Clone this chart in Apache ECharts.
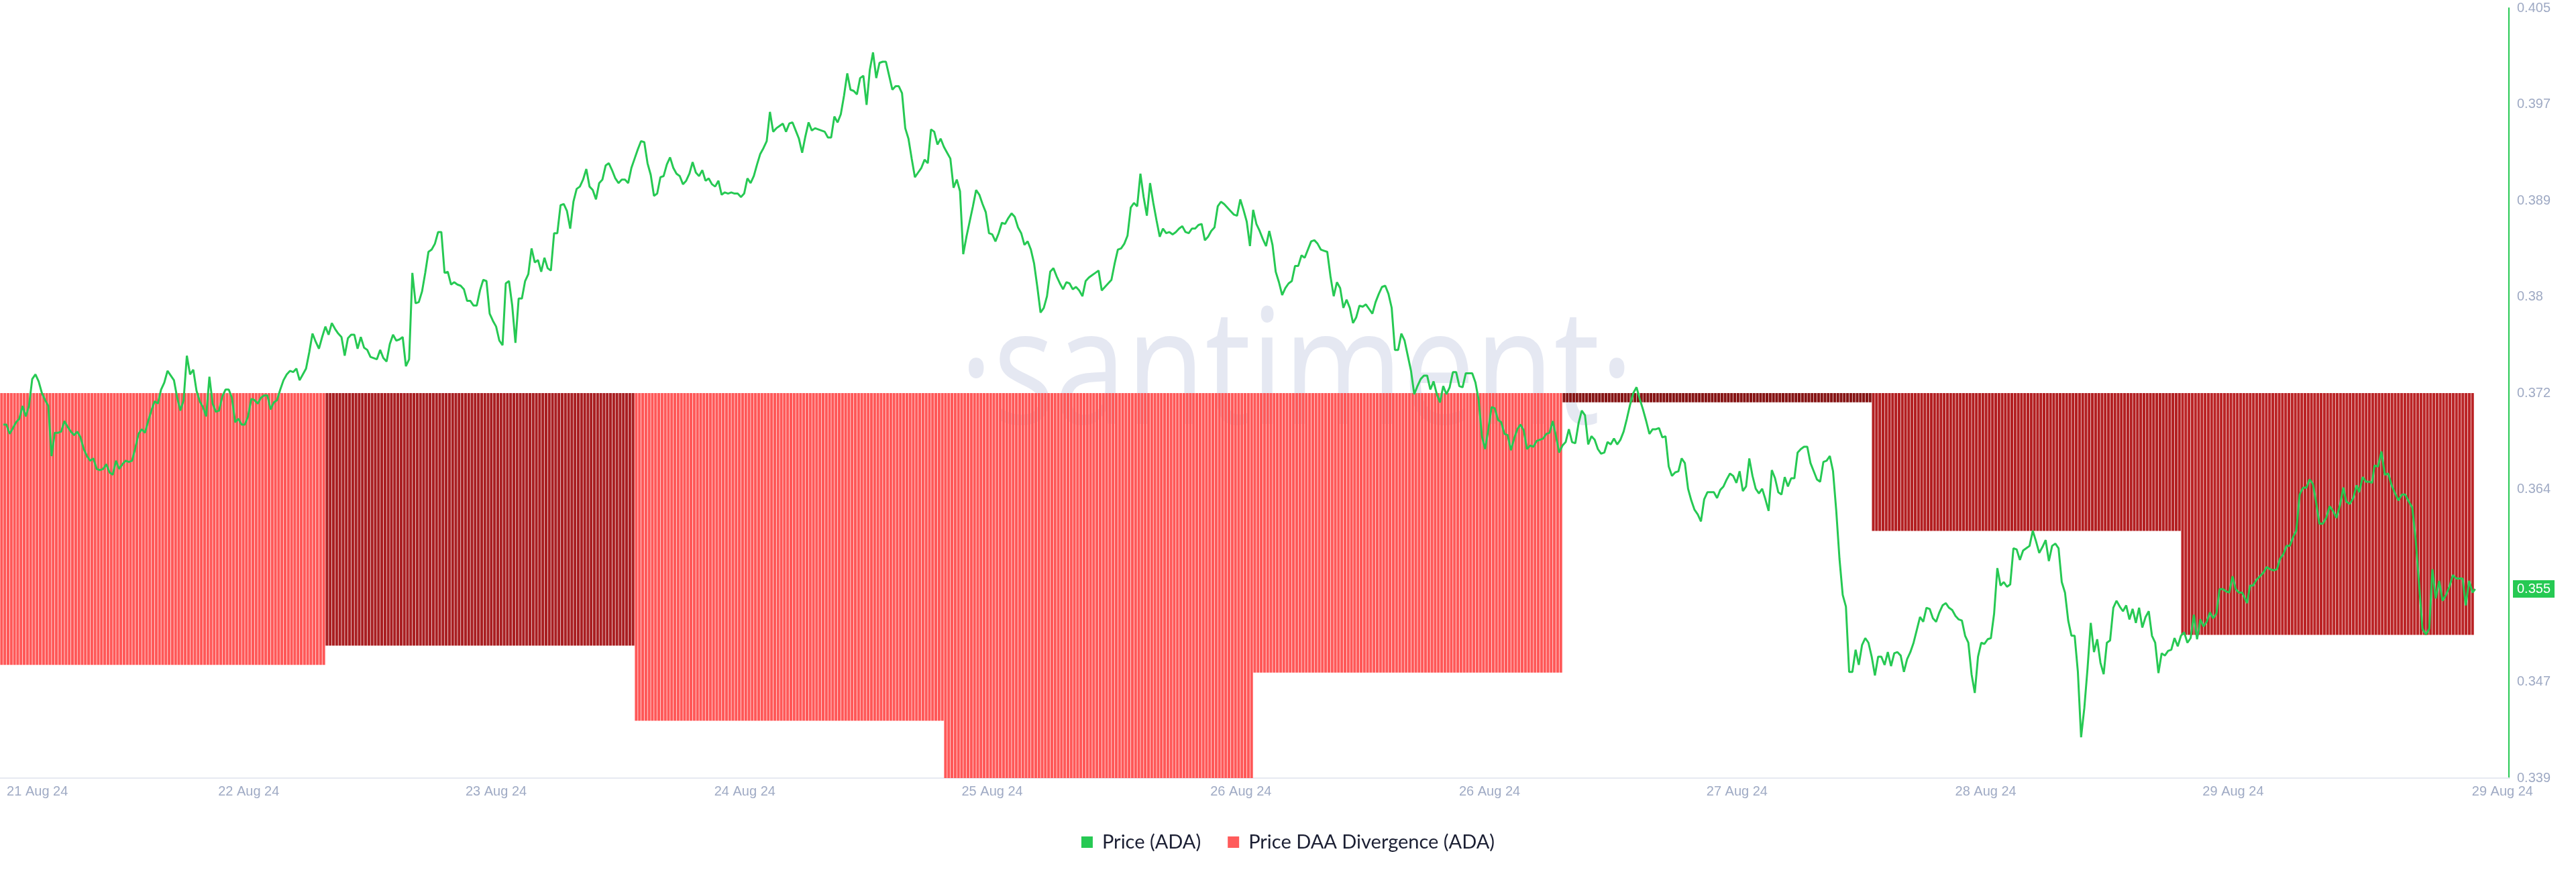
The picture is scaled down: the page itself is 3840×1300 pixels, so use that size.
<!DOCTYPE html>
<html>
<head>
<meta charset="utf-8">
<script src="https://cdn.jsdelivr.net/npm/echarts@6/dist/echarts.min.js"></script>
<style>
html,body{margin:0;padding:0;background:#ffffff;}
#chart{width:3840px;height:1300px;}
</style>
</head>
<body>
<div id="chart"></div>
<script>
// ---- Data (hours since chart start) ----
const xTickHours = [2.9, 19.3, 38.5, 57.8, 77.0, 96.3, 115.6, 134.8, 154.1, 173.3, 194.2];
const xTickLabels = ['21 Aug 24','22 Aug 24','23 Aug 24','24 Aug 24','25 Aug 24','26 Aug 24','26 Aug 24','27 Aug 24','28 Aug 24','29 Aug 24','29 Aug 24'];
const yTickValues = [0.339, 0.34725, 0.36375, 0.372, 0.38025, 0.3885, 0.39675, 0.405];
const yTickLabels = ['0.339','0.347','0.364','0.372','0.38','0.389','0.397','0.405'];

// Price DAA divergence: daily value, shown as 15-minute bars
const divSegStartHours = [0, 25.25, 49.25, 73.25, 97.25, 121.25, 145.25, 169.25];
const divSegEndHours   = [25.25, 49.25, 73.25, 97.25, 121.25, 145.25, 169.25, 192.0];
const divSegValues     = [-0.706, -0.656, -0.851, -1.0, -0.726, -0.024, -0.358, -0.628];
const divBarStepHours  = 0.25;

// Price (ADA): [hour, price]
const pricePoints = [
[0.25,.3693],[0.5,.3693],[0.75,.3685],[1,.3690],[1.25,.3695],[1.5,.3698],[1.75,.3709],[2,.3700],[2.25,.3709],[2.5,.3732],
[2.75,.3736],[3,.3730],[3.25,.3720],[3.5,.3714],[3.75,.3709],[4,.3666],[4.25,.3686],[4.5,.3686],[4.75,.3687],[5,.3696],
[5.25,.3691],[5.5,.3687],[5.75,.3684],[6,.3687],[6.25,.3682],[6.5,.3672],[6.75,.3666],[7,.3662],[7.25,.3664],[7.5,.3655],
[7.75,.3654],[8,.3655],[8.25,.3659],[8.5,.3652],[8.75,.3650],[9,.3662],[9.25,.3655],[9.5,.3659],[9.75,.3662],[10,.3661],
[10.25,.3662],[10.5,.3673],[10.75,.3685],[11,.3689],[11.25,.3686],[11.5,.3696],[11.75,.3705],[12,.3713],[12.25,.3711],[12.5,.3723],
[12.75,.3729],[13,.3739],[13.25,.3735],[13.5,.3731],[13.75,.3716],[14,.3705],[14.25,.3714],[14.5,.3752],[14.75,.3736],[15,.3740],
[15.25,.3722],[15.5,.3713],[15.75,.3708],[16,.3700],[16.25,.3734],[16.5,.3711],[16.75,.3704],[17,.3705],[17.25,.3717],[17.5,.3723],
[17.75,.3723],[18,.3716],[18.25,.3695],[18.5,.3698],[18.75,.3693],[19,.3693],[19.25,.3700],[19.5,.3715],[19.75,.3714],[20,.3711],
[20.25,.3716],[20.5,.3718],[20.75,.3718],[21,.3706],[21.25,.3712],[21.5,.3714],[21.75,.3723],[22,.3731],[22.25,.3736],[22.5,.3739],
[22.75,.3738],[23,.3741],[23.25,.3731],[23.5,.3736],[23.75,.3741],[24,.3755],[24.25,.3771],[24.5,.3764],[24.75,.3758],[25,.3768],
[25.25,.3777],[25.5,.3770],[25.75,.3780],[26,.3775],[26.25,.3771],[26.5,.3768],[26.75,.3752],[27,.3767],[27.25,.3770],[27.5,.3770],
[27.75,.3758],[28,.3768],[28.25,.3759],[28.5,.3757],[28.75,.3751],[29,.3750],[29.25,.3749],[29.5,.3757],[29.75,.3750],[30,.3747],
[30.25,.3762],[30.5,.3770],[30.75,.3765],[31,.3766],[31.25,.3768],[31.5,.3743],[31.75,.3749],[32,.3823],[32.25,.3797],[32.5,.3798],
[32.75,.3807],[33,.3823],[33.25,.3841],[33.5,.3843],[33.75,.3848],[34,.3858],[34.25,.3858],[34.5,.3823],[34.75,.3824],[35,.3813],
[35.25,.3815],[35.5,.3813],[35.75,.3812],[36,.3809],[36.25,.3799],[36.5,.3799],[36.75,.3795],[37,.3795],[37.25,.3808],[37.5,.3817],
[37.75,.3816],[38,.3788],[38.25,.3782],[38.5,.3777],[38.75,.3765],[39,.3761],[39.25,.3814],[39.5,.3816],[39.75,.3795],[40,.3763],
[40.25,.3801],[40.5,.3801],[40.75,.3816],[41,.3822],[41.25,.3844],[41.5,.3832],[41.75,.3834],[42,.3824],[42.25,.3836],[42.5,.3827],
[42.75,.3825],[43,.3857],[43.25,.3857],[43.5,.3881],[43.75,.3882],[44,.3876],[44.25,.3861],[44.5,.3884],[44.75,.3895],[45,.3897],
[45.25,.3903],[45.5,.3912],[45.75,.3897],[46,.3894],[46.25,.3886],[46.5,.3900],[46.75,.3903],[47,.3915],[47.25,.3917],[47.5,.3911],
[47.75,.3904],[48,.3900],[48.25,.3903],[48.5,.3903],[48.75,.3900],[49,.3913],[49.25,.3921],[49.5,.3929],[49.75,.3936],[50,.3935],
[50.25,.3917],[50.5,.3907],[50.75,.3889],[51,.3891],[51.25,.3905],[51.5,.3906],[51.75,.3916],[52,.3922],[52.25,.3913],[52.5,.3908],
[52.75,.3906],[53,.3899],[53.25,.3902],[53.5,.3908],[53.75,.3918],[54,.3909],[54.25,.3906],[54.5,.3911],[54.75,.3902],[55,.3904],
[55.25,.3899],[55.5,.3897],[55.75,.3902],[56,.3890],[56.25,.3892],[56.5,.3891],[56.75,.3892],[57,.3891],[57.25,.3891],[57.5,.3888],
[57.75,.3891],[58,.3904],[58.25,.3900],[58.5,.3906],[58.75,.3916],[59,.3925],[59.25,.3930],[59.5,.3936],[59.75,.3961],[60,.3944],
[60.25,.3947],[60.5,.3949],[60.75,.3951],[61,.3944],[61.25,.3951],[61.5,.3952],[61.75,.3945],[62,.3938],[62.25,.3926],[62.5,.3940],
[62.75,.3952],[63,.3945],[63.25,.3947],[63.5,.3946],[63.75,.3945],[64,.3944],[64.25,.3939],[64.5,.3939],[64.75,.3957],[65,.3952],
[65.25,.3959],[65.5,.3975],[65.75,.3994],[66,.3980],[66.25,.3979],[66.5,.3976],[66.75,.3990],[67,.3992],[67.25,.3967],[67.5,.3997],
[67.75,.4012],[68,.3990],[68.25,.4003],[68.5,.4004],[68.75,.4004],[69,.3992],[69.25,.3980],[69.5,.3983],[69.75,.3983],[70,.3977],
[70.25,.3947],[70.5,.3938],[70.75,.3921],[71,.3905],[71.25,.3909],[71.5,.3913],[71.75,.3920],[72,.3917],[72.25,.3946],[72.5,.3944],
[72.75,.3933],[73,.3938],[73.25,.3931],[73.5,.3926],[73.75,.3921],[74,.3896],[74.25,.3903],[74.5,.3893],[74.75,.3839],[75,.3854],
[75.25,.3867],[75.5,.3880],[75.75,.3894],[76,.3890],[76.25,.3882],[76.5,.3875],[76.75,.3857],[77,.3856],[77.25,.3850],[77.5,.3857],
[77.75,.3866],[78,.3865],[78.25,.3870],[78.5,.3874],[78.75,.3871],[79,.3862],[79.25,.3857],[79.5,.3847],[79.75,.3850],[80,.3843],
[80.25,.3831],[80.5,.3811],[80.75,.3789],[81,.3793],[81.25,.3803],[81.5,.3824],[81.75,.3827],[82,.3820],[82.25,.3814],[82.5,.3809],
[82.75,.3815],[83,.3814],[83.25,.3809],[83.5,.3811],[83.75,.3808],[84,.3803],[84.25,.3816],[84.5,.3819],[84.75,.3821],[85,.3823],
[85.25,.3825],[85.5,.3808],[85.75,.3811],[86,.3814],[86.25,.3817],[86.5,.3831],[86.75,.3843],[87,.3844],[87.25,.3848],[87.5,.3855],
[87.75,.3879],[88,.3883],[88.25,.3880],[88.5,.3908],[88.75,.3888],[89,.3872],[89.25,.3900],[89.5,.3883],[89.75,.3868],[90,.3854],
[90.25,.3861],[90.5,.3857],[90.75,.3858],[91,.3856],[91.25,.3858],[91.5,.3861],[91.75,.3863],[92,.3858],[92.25,.3857],[92.5,.3861],
[92.75,.3861],[93,.3864],[93.25,.3865],[93.5,.3851],[93.75,.3854],[94,.3859],[94.25,.3862],[94.5,.3880],[94.75,.3884],[95,.3882],
[95.25,.3879],[95.5,.3876],[95.75,.3873],[96,.3872],[96.25,.3886],[96.5,.3877],[96.75,.3867],[97,.3846],[97.25,.3877],[97.5,.3865],
[97.75,.3859],[98,.3852],[98.25,.3846],[98.5,.3859],[98.75,.3847],[99,.3824],[99.25,.3815],[99.5,.3804],[99.75,.3810],[100,.3814],
[100.25,.3816],[100.5,.3829],[100.75,.3829],[101,.3838],[101.25,.3836],[101.5,.3843],[101.75,.3850],[102,.3851],[102.25,.3848],[102.5,.3843],
[102.75,.3842],[103,.3841],[103.25,.3820],[103.5,.3803],[103.75,.3815],[104,.3810],[104.25,.3793],[104.5,.3800],[104.75,.3793],[105,.3780],
[105.25,.3785],[105.5,.3795],[105.75,.3794],[106,.3796],[106.25,.3792],[106.5,.3788],[106.75,.3798],[107,.3805],[107.25,.3811],[107.5,.3812],
[107.75,.3805],[108,.3793],[108.25,.3757],[108.5,.3757],[108.75,.3771],[109,.3765],[109.25,.3752],[109.5,.3739],[109.75,.3719],[110,.3726],
[110.25,.3732],[110.5,.3735],[110.75,.3735],[111,.3723],[111.25,.3730],[111.5,.3719],[111.75,.3712],[112,.3726],[112.25,.3719],[112.5,.3725],
[112.75,.3738],[113,.3738],[113.25,.3726],[113.5,.3725],[113.75,.3737],[114,.3737],[114.25,.3737],[114.5,.3729],[114.75,.3714],[115,.3683],
[115.25,.3672],[115.5,.3689],[115.75,.3708],[116,.3707],[116.25,.3697],[116.5,.3695],[116.75,.3685],[117,.3684],[117.25,.3671],[117.5,.3681],
[117.75,.3689],[118,.3693],[118.25,.3688],[118.5,.3672],[118.75,.3675],[119,.3674],[119.25,.3679],[119.5,.3680],[119.75,.3681],[120,.3685],
[120.25,.3686],[120.5,.3696],[120.75,.3683],[121,.3669],[121.25,.3675],[121.5,.3678],[121.75,.3689],[122,.3678],[122.25,.3677],[122.5,.3694],
[122.75,.3705],[123,.3701],[123.25,.3676],[123.5,.3683],[123.75,.3680],[124,.3672],[124.25,.3668],[124.5,.3669],[124.75,.3678],[125,.3676],
[125.25,.3681],[125.5,.3676],[125.75,.3680],[126,.3687],[126.25,.3698],[126.5,.3710],[126.75,.3720],[127,.3725],[127.25,.3715],[127.5,.3706],
[127.75,.3696],[128,.3685],[128.25,.3689],[128.5,.3689],[128.75,.3690],[129,.3682],[129.25,.3683],[129.5,.3657],[129.75,.3649],[130,.3652],
[130.25,.3653],[130.5,.3664],[130.75,.3660],[131,.3638],[131.25,.3628],[131.5,.3620],[131.75,.3616],[132,.3610],[132.25,.3629],[132.5,.3635],
[132.75,.3635],[133,.3635],[133.25,.3630],[133.5,.3637],[133.75,.3640],[134,.3646],[134.25,.3651],[134.5,.3649],[134.75,.3643],[135,.3653],
[135.25,.3636],[135.5,.3640],[135.75,.3664],[136,.3649],[136.25,.3638],[136.5,.3634],[136.75,.3638],[137,.3629],[137.25,.3619],[137.5,.3654],
[137.75,.3647],[138,.3635],[138.25,.3633],[138.5,.3648],[138.75,.3640],[139,.3647],[139.25,.3647],[139.5,.3669],[139.75,.3672],[140,.3674],
[140.25,.3674],[140.5,.3660],[140.75,.3653],[141,.3646],[141.25,.3644],[141.5,.3661],[141.75,.3662],[142,.3666],[142.25,.3653],[142.5,.3619],
[142.75,.3578],[143,.3547],[143.25,.3537],[143.5,.3481],[143.75,.3481],[144,.3500],[144.25,.3487],[144.5,.3504],[144.75,.3510],[145,.3506],
[145.25,.3494],[145.5,.3478],[145.75,.3494],[146,.3494],[146.25,.3487],[146.5,.3498],[146.75,.3486],[147,.3497],[147.25,.3498],[147.5,.3495],
[147.75,.3481],[148,.3492],[148.25,.3498],[148.5,.3506],[148.75,.3517],[149,.3528],[149.25,.3524],[149.5,.3536],[149.75,.3535],[150,.3527],
[150.25,.3524],[150.5,.3532],[150.75,.3538],[151,.3540],[151.25,.3536],[151.5,.3534],[151.75,.3529],[152,.3526],[152.25,.3525],[152.5,.3512],
[152.75,.3506],[153,.3479],[153.25,.3463],[153.5,.3494],[153.75,.3506],[154,.3505],[154.25,.3509],[154.5,.3510],[154.75,.3531],[155,.3570],
[155.25,.3555],[155.5,.3558],[155.75,.3554],[156,.3556],[156.25,.3587],[156.5,.3586],[156.75,.3577],[157,.3585],[157.25,.3587],[157.5,.3589],
[157.75,.3602],[158,.3593],[158.25,.3583],[158.5,.3588],[158.75,.3594],[159,.3576],[159.25,.3589],[159.5,.3591],[159.75,.3587],[160,.3558],
[160.25,.3549],[160.5,.3525],[160.75,.3512],[161,.3512],[161.25,.3481],[161.5,.3425],[161.75,.3450],[162,.3484],[162.25,.3523],[162.5,.3498],
[162.75,.3509],[163,.3489],[163.25,.3479],[163.5,.3506],[163.75,.3508],[164,.3536],[164.25,.3542],[164.5,.3537],[164.75,.3533],[165,.3538],
[165.25,.3526],[165.5,.3535],[165.75,.3523],[166,.3536],[166.25,.3519],[166.5,.3528],[166.75,.3533],[167,.3512],[167.25,.3506],[167.5,.3480],
[167.75,.3497],[168,.3495],[168.25,.3499],[168.5,.3500],[168.75,.3510],[169,.3503],[169.25,.3512],[169.5,.3515],[169.75,.3506],[170,.3510],
[170.25,.3530],[170.5,.3509],[170.75,.3526],[171,.3520],[171.25,.3524],[171.5,.3532],[171.75,.3527],[172,.3531],[172.25,.3552],[172.5,.3552],
[172.75,.3550],[173,.3549],[173.25,.3563],[173.5,.3552],[173.75,.3549],[174,.3549],[174.38,.3540],[174.61,.3555],[174.85,.3555],[175.11,.3560],
[175.38,.3563],[175.64,.3566],[175.91,.3571],[176.17,.3569],[176.44,.3568],[176.7,.3569],[176.94,.3578],[177.2,.3582],[177.44,.3589],[177.7,.3589],
[177.97,.3597],[178.2,.3602],[178.46,.3633],[178.73,.3639],[178.99,.3639],[179.23,.3646],[179.49,.3642],[179.73,.3627],[179.99,.3608],[180.26,.3608],
[180.52,.3613],[180.79,.3623],[181.05,.3619],[181.32,.3613],[181.59,.3624],[181.85,.3639],[182.08,.3627],[182.35,.3625],[182.62,.3630],[182.88,.3641],
[183.08,.3635],[183.35,.3648],[183.61,.3644],[183.88,.3644],[184.08,.3643],[184.27,.3658],[184.54,.3657],[184.81,.3670],[185.07,.3650],[185.34,.3651],
[185.6,.3641],[185.87,.3634],[186.13,.3628],[186.4,.3633],[186.66,.3633],[186.93,.3627],[187.2,.3622],[187.46,.3595],[187.73,.3556],[187.99,.3518],
[188.26,.3513],[188.52,.3518],[188.76,.3569],[189.02,.3544],[189.29,.3559],[189.55,.3542],[189.82,.3547],[190.08,.3554],[190.35,.3564],[190.62,.3561],
[190.88,.3561],[191.11,.3561],[191.35,.3538],[191.61,.3559],[191.88,.3549],[192.08,.3552]
];

// ---- Styles ----
const PRICE_COLOR = '#26c953';
const DIV_COLOR = '#ff5b5b';
const divSegColors = ['#ff5858', '#a91f22', '#ff5858', '#ff5858', '#ff5858', '#861414', '#b31f21', '#bb2426'];
const AXIS_TEXT = '#9faac4';
const AXIS_FONT = '"Liberation Sans", Arial, sans-serif';

// Build bar items from the daily divergence values
const divBars = [];
for (let s = 0; s < divSegValues.length; s++) {
  const i0 = Math.round(divSegStartHours[s] / divBarStepHours);
  const i1 = Math.round(divSegEndHours[s] / divBarStepHours);
  for (let i = i0; i < i1; i++) {
    divBars.push({
      value: [i * divBarStepHours + divBarStepHours / 2, divSegValues[s]],
      itemStyle: { color: divSegColors[s] }
    });
  }
}

const lastPrice = pricePoints[pricePoints.length - 1][1];

function lookup(values, labels, v) {
  for (let i = 0; i < values.length; i++) {
    if (Math.abs(values[i] - v) < 1e-6) return labels[i];
  }
  return '';
}

const chart = echarts.init(document.getElementById('chart'), null, { renderer: 'canvas' });
chart.setOption({
  animation: false,
  backgroundColor: '#ffffff',
  graphic: [{
    type: 'text',
    x: 1430,
    y: 444,
    scaleX: 0.8,
    z: -10,
    silent: true,
    style: {
      text: '\u00B7santiment\u00B7',
      font: '240px "Open Sans"',
      fill: '#e5e8f2',
      align: 'left',
      verticalAlign: 'top'
    }
  }, {
    type: 'group',
    right: 32,
    top: 865,
    z: 50,
    silent: true,
    children: [{
      type: 'rect',
      shape: { x: 0, y: 0, width: 62, height: 26 },
      style: { fill: PRICE_COLOR }
    }, {
      type: 'text',
      style: {
        x: 31, y: 13,
        text: lastPrice.toFixed(3),
        fill: '#ffffff',
        font: '20px "Liberation Sans", Arial, sans-serif',
        align: 'center',
        verticalAlign: 'middle'
      }
    }]
  }],
  legend: {
    left: 'center',
    top: 1236,
    itemWidth: 17,
    itemHeight: 17,
    itemGap: 40,
    icon: 'rect',
    data: ['Price (ADA)', 'Price DAA Divergence (ADA)'],
    textStyle: { fontSize: 29, color: '#1b1f33', fontFamily: 'Lato, "Open Sans", sans-serif', padding: [0, 0, 0, 9] }
  },
  grid: { left: 0, right: 100, top: 12, bottom: 140, containLabel: false, outerBoundsMode: 'none' },
  xAxis: {
    type: 'value',
    min: 0,
    max: 194.7,
    axisLine: { show: true, onZero: false, lineStyle: { color: '#e6e9f1', width: 2 } },
    axisTick: { show: false },
    splitLine: { show: false },
    axisLabel: {
      customValues: xTickHours,
      formatter: (v) => lookup(xTickHours, xTickLabels, v),
      color: AXIS_TEXT,
      fontSize: 20,
      fontFamily: AXIS_FONT,
      margin: 10
    }
  },
  yAxis: [{
    type: 'value',
    position: 'right',
    min: 0.339,
    max: 0.405,
    axisLine: { show: true, onZero: false, lineStyle: { color: PRICE_COLOR, width: 2 } },
    axisTick: { show: false },
    splitLine: { show: false },
    axisLabel: {
      customValues: yTickValues,
      formatter: (v) => lookup(yTickValues, yTickLabels, v),
      color: AXIS_TEXT,
      fontSize: 20,
      fontFamily: AXIS_FONT,
      margin: 12
    }
  }, {
    type: 'value',
    position: 'right',
    min: -1,
    max: 1,
    show: false,
    axisLine: { show: false, onZero: false }
  }],
  series: [{
    name: 'Price DAA Divergence (ADA)',
    type: 'bar',
    xAxisIndex: 0,
    yAxisIndex: 1,
    data: divBars,
    barWidth: 4.1,
    itemStyle: { color: DIV_COLOR },
    z: 2,
    silent: true
  }, {
    name: 'Price (ADA)',
    type: 'line',
    xAxisIndex: 0,
    yAxisIndex: 0,
    data: pricePoints,
    showSymbol: false,
    symbol: 'none',
    lineStyle: { color: PRICE_COLOR, width: 3 },
    itemStyle: { color: PRICE_COLOR },
    z: 5,
    silent: true
  }]
});
</script>
</body>
</html>
